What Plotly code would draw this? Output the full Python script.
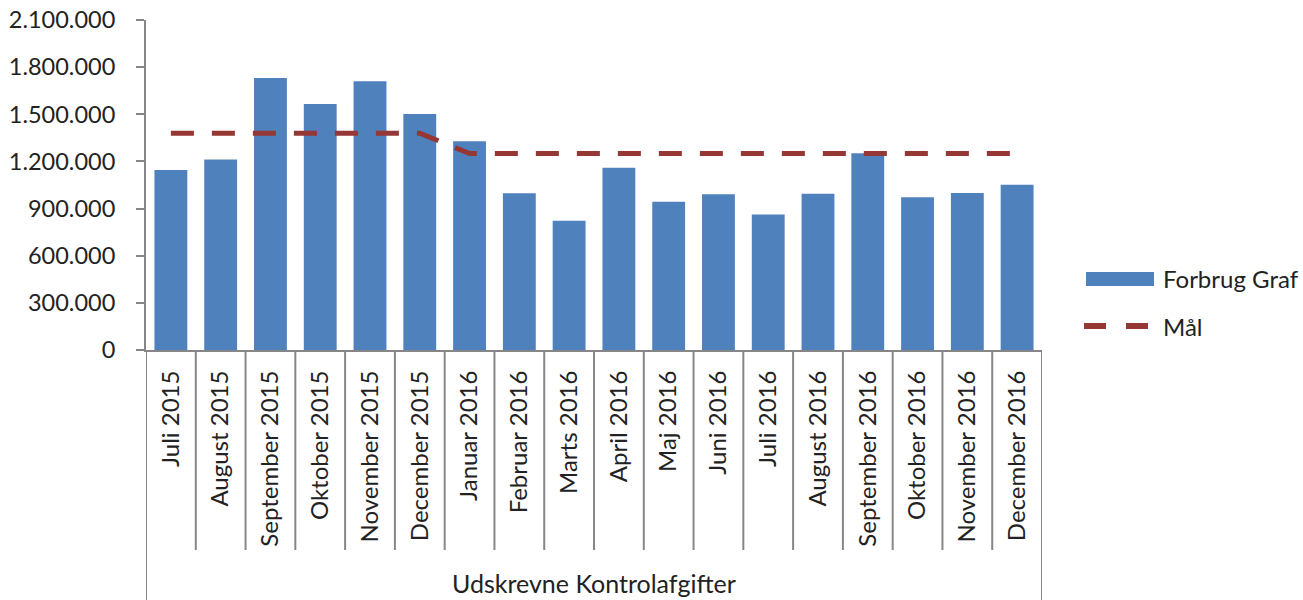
import plotly.graph_objects as go

months = [
    "Juli 2015", "August 2015", "September 2015", "Oktober 2015", "November 2015",
    "December 2015", "Januar 2016", "Februar 2016", "Marts 2016", "April 2016",
    "Maj 2016", "Juni 2016", "Juli 2016", "August 2016", "September 2016",
    "Oktober 2016", "November 2016", "December 2016",
]
forbrug = [
    1146000, 1213000, 1731000, 1565000, 1710000, 1502000, 1328000, 997000, 823000,
    1160000, 944000, 991000, 863000, 995000, 1252000, 972000, 999000, 1052000,
]
maal = [
    1380000, 1380000, 1380000, 1380000, 1380000, 1380000, 1250000, 1250000, 1250000,
    1250000, 1250000, 1250000, 1250000, 1250000, 1250000, 1250000, 1250000, 1250000,
]
group_label = "Udskrevne Kontrolafgifter"
y_ticks = [0, 300000, 600000, 900000, 1200000, 1500000, 1800000, 2100000]

BAR = "#4F81BD"
LINE = "#953735"
AXIS = "#868686"
TEXT = "#222222"
FONT = "Lato"

fig = go.Figure()
fig.add_trace(go.Bar(x=months, y=forbrug, name="Forbrug Graf", marker_color=BAR,
                     marker_line_width=0, showlegend=False))
fig.add_trace(go.Scatter(x=months, y=maal, name="Mål", mode="lines",
                         line=dict(color=LINE, width=5, dash="23px,18px"),
                         showlegend=False))

# plot area geometry (pixels) used to place the decorations in paper units
L, R, T, B = 146, 1042, 20, 350
W, H = R - L, B - T


def px_x(p):
    return (p - L) / W


def px_y(p):
    return (B - p) / H


shapes = []
# separators between the month labels
for i in range(1, len(months)):
    shapes.append(dict(type="line", xref="x", yref="paper", x0=i - 0.5, x1=i - 0.5,
                       y0=0, y1=px_y(550), line=dict(color=AXIS, width=2)))
# outer frame of the category group
for xe in (-0.5, len(months) - 0.5):
    shapes.append(dict(type="line", xref="x", yref="paper", x0=xe, x1=xe,
                       y0=0, y1=px_y(600), line=dict(color=AXIS, width=2)))

# legend
shapes.append(dict(type="rect", xref="paper", yref="paper",
                   x0=px_x(1086), x1=px_x(1154), y0=px_y(286), y1=px_y(272),
                   fillcolor=BAR, line=dict(width=0)))
for a, b in ((1084, 1106), (1126, 1148)):
    shapes.append(dict(type="line", xref="paper", yref="paper",
                       x0=px_x(a), x1=px_x(b), y0=px_y(326), y1=px_y(326),
                       line=dict(color=LINE, width=6)))

annotations = [
    dict(text=group_label, xref="paper", yref="paper", x=px_x(594), y=px_y(583),
         xanchor="center", yanchor="middle", showarrow=False,
         font=dict(family=FONT, size=25, color=TEXT)),
    dict(text="Forbrug Graf", xref="paper", yref="paper", x=px_x(1161), y=px_y(278),
         xanchor="left", yanchor="middle", showarrow=False,
         font=dict(family=FONT, size=24, color=TEXT)),
    dict(text="Mål", xref="paper", yref="paper", x=px_x(1161), y=px_y(326),
         xanchor="left", yanchor="middle", showarrow=False,
         font=dict(family=FONT, size=24, color=TEXT)),
]

fig.update_layout(
    width=1303, height=600,
    margin=dict(l=L, r=1303 - R, t=T, b=600 - B, autoexpand=False),
    paper_bgcolor="white", plot_bgcolor="white",
    separators=",.",
    bargap=0.34,
    showlegend=False,
    shapes=shapes,
    annotations=annotations,
    font=dict(family=FONT, size=23, color=TEXT),
    xaxis=dict(
        type="category", range=[-0.5, len(months) - 0.5], automargin=False,
        showline=True, linecolor=AXIS, linewidth=2,
        ticks="", tickangle=-90, ticklabelstandoff=9,
        tickfont=dict(family=FONT, size=24, color=TEXT),
        showgrid=False, zeroline=False,
    ),
    yaxis=dict(
        range=[0, 2100000], tickvals=y_ticks, tickformat=",d", automargin=False,
        showline=True, linecolor=AXIS, linewidth=2,
        ticks="outside", ticklen=8, tickwidth=2, tickcolor=AXIS,
        ticklabelstandoff=16,
        tickfont=dict(family=FONT, size=23.5, color=TEXT),
        showgrid=False, zeroline=False,
    ),
)

fig.write_html("out.html")
